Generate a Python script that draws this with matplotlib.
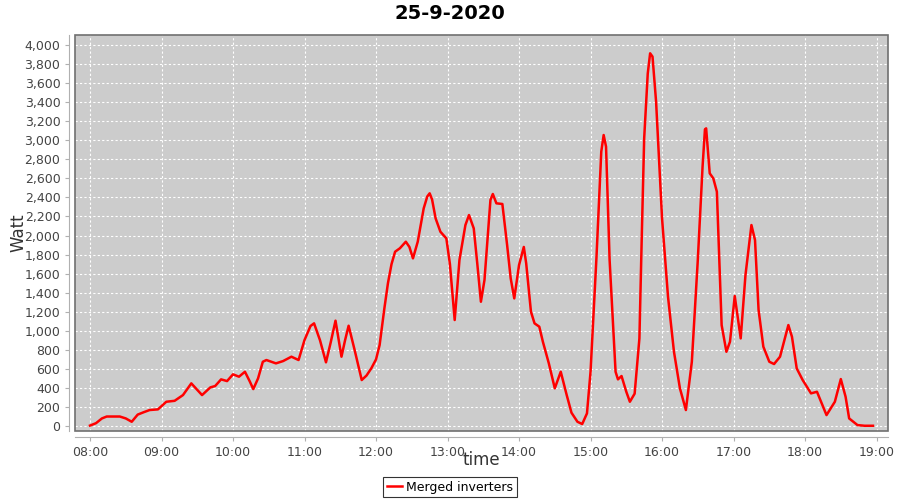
import matplotlib
matplotlib.use("Agg")
import matplotlib.pyplot as plt
from matplotlib.patches import Rectangle
from matplotlib.ticker import FuncFormatter, MultipleLocator

title = "25-9-2020"
series_name = "Merged inverters"

times = ["08:00","08:05","08:10","08:14","08:20","08:25","08:30","08:35","08:40","08:45",
         "08:50","08:57","09:04","09:11","09:18","09:25","09:30","09:34","09:41","09:45",
         "09:50","09:55","10:00","10:05","10:10","10:14","10:17","10:21","10:25","10:28",
         "10:36","10:42","10:49","10:55","11:00","11:05","11:08","11:13","11:18","11:22",
         "11:26","11:31","11:34","11:37","11:42","11:48","11:52","11:56","12:00","12:03",
         "12:07","12:10","12:13","12:16","12:20","12:25","12:28","12:31","12:35","12:40",
         "12:43","12:45","12:47","12:50","12:54","12:59","13:02","13:06","13:10","13:15",
         "13:18","13:22","13:25","13:28","13:31","13:36","13:38","13:41","13:46","13:50",
         "13:53","13:56","14:00","14:04","14:06","14:10","14:13","14:17","14:20","14:25",
         "14:30","14:35","14:40","14:44","14:49","14:53","14:57","15:00","15:05","15:09",
         "15:11","15:13","15:16","15:21","15:23","15:26","15:30","15:33","15:37","15:41",
         "15:43","15:45","15:48","15:50","15:52","15:55","16:00","16:05","16:10","16:15",
         "16:20","16:25","16:30","16:34","16:36","16:37","16:40","16:43","16:46","16:50",
         "16:54","16:57","17:01","17:06","17:10","17:15","17:18","17:21","17:25","17:30",
         "17:34","17:39","17:46","17:49","17:53","17:58","18:05","18:10","18:18","18:25",
         "18:30","18:34","18:37","18:44","18:50","18:57"]
watts = [5,30,80,100,100,100,80,45,120,145,
         168,175,255,265,325,448,380,325,406,420,
         490,472,543,518,570,470,388,500,675,693,
         658,682,728,693,903,1050,1078,900,669,880,
         1106,728,900,1053,800,483,530,605,700,850,
         1235,1500,1700,1830,1866,1935,1880,1760,1935,2285,
         2410,2443,2380,2180,2040,1970,1700,1113,1743,2110,
         2215,2075,1700,1305,1533,2373,2436,2338,2331,1900,
         1550,1340,1690,1880,1708,1200,1078,1043,885,658,
         396,570,325,140,45,21,133,570,1778,2880,
         3055,2933,1743,570,490,525,360,255,340,920,
         2000,3020,3700,3913,3878,3405,2180,1358,780,396,
         168,675,1743,2723,3115,3125,2653,2600,2460,1060,
         780,885,1365,920,1585,2110,1953,1218,833,675,
         651,728,1060,938,605,483,343,360,115,255,
         493,308,80,10,3,3]
hour_labels = ["08:00","09:00","10:00","11:00","12:00","13:00","14:00",
               "15:00","16:00","17:00","18:00","19:00"]

def to_min(s):
    h, m = s.split(":")
    return (int(h) - 8) * 60 + int(m)

x = [to_min(t) for t in times]
xt = [to_min(t) for t in hour_labels]

fig = plt.figure(figsize=(9, 5), dpi=100)
ax = fig.add_axes([75/900, 1-431/500, (888-75)/900, (431-35)/500])
ax.set_facecolor("#cccccc")

ax.plot(x, watts, color="#ff0000", lw=1.8, label=series_name, zorder=3,
        solid_joinstyle="round")

ax.set_xlim(-12.6, 669.6)
ax.set_ylim(-52, 4105)
ax.set_xticks(xt)
ax.set_xticklabels(hour_labels)
ax.yaxis.set_major_locator(MultipleLocator(200))
ax.yaxis.set_major_formatter(FuncFormatter(lambda v, p: f"{int(v):,}"))

ax.grid(True, color="white", ls=(0, (2, 2)), lw=0.8)
ax.set_axisbelow(True)

for s in ["top", "right"]:
    ax.spines[s].set_visible(False)
for s in ["left", "bottom"]:
    ax.spines[s].set_position(("outward", 4))
    ax.spines[s].set_color("#b0b0b0")
ax.add_patch(Rectangle((0, 0), 1, 1, transform=ax.transAxes, fill=False,
                       edgecolor="#707070", lw=1.2, zorder=4, clip_on=False))

ax.tick_params(axis="both", colors="#b0b0b0", labelcolor="#444444",
               labelsize=9, length=3)

ax.set_xlabel("time", fontsize=12, color="#333333")
ax.set_ylabel("Watt", fontsize=12, color="#333333")
ax.xaxis.set_label_coords(0.5, -0.05)
ax.yaxis.set_label_coords(-0.058, 0.5)

fig.text(0.5, 1 - 4/500, title, fontsize=14, fontweight="bold",
         ha="center", va="top")

leg = fig.legend(loc="center", bbox_to_anchor=(0.5, 1 - 487/500), frameon=True,
                 fancybox=False, edgecolor="black", fontsize=9,
                 handlelength=1.2, handletextpad=0.3, borderpad=0.3)
leg.get_frame().set_linewidth(0.8)

fig.savefig("out.png", dpi=100, facecolor="white")
